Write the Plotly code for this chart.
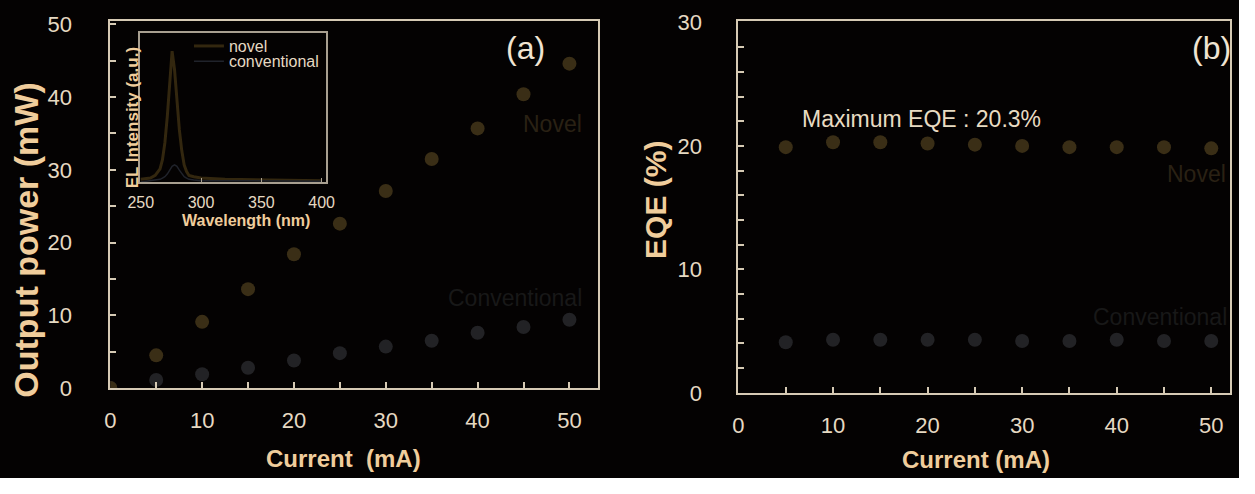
import plotly.graph_objects as go

# ---- data -------------------------------------------------------------
current_ma = [0, 5, 10, 15, 20, 25, 30, 35, 40, 45, 50]
power_novel_mw = [0.0, 4.5, 9.1, 13.6, 18.4, 22.6, 27.1, 31.5, 35.7, 40.4, 44.6]
power_conv_mw = [0.0, 1.1, 1.9, 2.8, 3.8, 4.8, 5.7, 6.5, 7.6, 8.4, 9.4]

eqe_current_ma = [5, 10, 15, 20, 25, 30, 35, 40, 45, 50]
eqe_novel_pct = [19.9, 20.3, 20.3, 20.2, 20.1, 20.0, 19.9, 19.9, 19.9, 19.8]
eqe_conv_pct = [4.1, 4.3, 4.3, 4.3, 4.3, 4.2, 4.2, 4.3, 4.2, 4.2]

wavelength_nm = [250, 258, 262, 266, 268, 270, 272, 274, 276, 278, 280,
                 282, 284, 286, 288, 290, 294, 300, 320, 350, 380, 400]
el_novel = [0.02, 0.03, 0.05, 0.10, 0.17, 0.30, 0.50, 0.76, 1.00, 0.86, 0.62,
            0.40, 0.24, 0.13, 0.08, 0.05, 0.04, 0.03, 0.02, 0.015, 0.01, 0.01]
el_conv = [0.00, 0.01, 0.01, 0.02, 0.03, 0.04, 0.06, 0.09, 0.12, 0.13, 0.12,
           0.09, 0.06, 0.04, 0.03, 0.02, 0.015, 0.01, 0.01, 0.01, 0.005, 0.005]

power_ticks = [0, 5, 10, 15, 20, 25, 30, 35, 40, 45, 50]
power_ticktext = ["0", "", "10", "", "20", "", "30", "", "40", "", "50"]
current_ticks = [0, 5, 10, 15, 20, 25, 30, 35, 40, 45, 50]
current_ticktext = ["0", "", "10", "", "20", "", "30", "", "40", "", "50"]
eqe_ticks = list(range(0, 31, 2))
eqe_ticktext = [str(v) if v % 10 == 0 else "" for v in eqe_ticks]
wl_ticks = [250, 300, 350, 400]

# ---- styling ----------------------------------------------------------
# The page keeps its default 8 px body margin, so the figure itself is
# 16 px smaller than the window and every position below is given in
# window pixels, then shifted by that margin.
PAGE_W, PAGE_H, PAGE_MARGIN = 1255, 494, 8
W, H = PAGE_W - 2 * PAGE_MARGIN, PAGE_H - 2 * PAGE_MARGIN
BG = "#040202"
AXIS = "#d6cab4"
TICKFONT = "#e6d9c2"
TITLEFONT = "#f0cd9c"
NOVEL = "#3a2e16"
CONV = "#222225"
FONT = "Liberation Sans, Arial, sans-serif"


def px_x(p):
    return (p - PAGE_MARGIN) / W


def px_y(p):
    return 1 - (p - PAGE_MARGIN) / H


fig = go.Figure()

# (a) output power
fig.add_trace(go.Scatter(x=current_ma, y=power_conv_mw, mode="markers",
                         marker=dict(size=14, color=CONV), showlegend=False,
                         xaxis="x", yaxis="y"))
fig.add_trace(go.Scatter(x=current_ma, y=power_novel_mw, mode="markers",
                         marker=dict(size=14, color=NOVEL), showlegend=False,
                         xaxis="x", yaxis="y"))

# (b) EQE
fig.add_trace(go.Scatter(x=eqe_current_ma, y=eqe_novel_pct, mode="markers",
                         marker=dict(size=14, color=NOVEL), showlegend=False,
                         xaxis="x2", yaxis="y2"))
fig.add_trace(go.Scatter(x=eqe_current_ma, y=eqe_conv_pct, mode="markers",
                         marker=dict(size=14, color=CONV), showlegend=False,
                         xaxis="x2", yaxis="y2"))

# inset EL spectra, each with its own one-line legend
fig.add_trace(go.Scatter(x=wavelength_nm, y=el_novel, mode="lines", name="novel",
                         line=dict(color="#33270f", width=3),
                         xaxis="x3", yaxis="y3", legend="legend"))
fig.add_trace(go.Scatter(x=wavelength_nm, y=el_conv, mode="lines", name="conventional",
                         line=dict(color="#20232b", width=1.5),
                         xaxis="x3", yaxis="y3", legend="legend2"))

axis_common = dict(showline=True, linecolor=AXIS, linewidth=2, mirror=True,
                   ticks="inside", tickcolor=AXIS, ticklen=6, tickwidth=1.5,
                   showgrid=False, zeroline=False,
                   tickfont=dict(family=FONT, size=22, color=TICKFONT))

legend_common = dict(xanchor="left", yanchor="top",
                     bgcolor="rgba(0,0,0,0)", borderwidth=0,
                     font=dict(family=FONT, size=16, color=TICKFONT))

fig.update_layout(
    width=W, height=H,
    margin=dict(l=0, r=0, t=0, b=0),
    paper_bgcolor=BG, plot_bgcolor=BG,
    font=dict(family=FONT),
    xaxis=dict(domain=[px_x(108), px_x(604)], range=[0, 53.1],
               tickvals=current_ticks, ticktext=current_ticktext,
               ticklabelstandoff=12, anchor="y", **axis_common),
    yaxis=dict(domain=[px_y(405), px_y(19)], range=[0, 50.4],
               tickvals=power_ticks, ticktext=power_ticktext,
               ticklabelstandoff=32, anchor="x", **axis_common),
    xaxis2=dict(domain=[px_x(747), 1.0], range=[0, 51.98],
                tickvals=current_ticks, ticktext=current_ticktext,
                ticklabelstandoff=12, anchor="y2", **axis_common),
    yaxis2=dict(domain=[px_y(410), px_y(19)], range=[0, 30.08],
                tickvals=eqe_ticks, ticktext=eqe_ticktext,
                ticklabelstandoff=30, anchor="x2", **axis_common),
    xaxis3=dict(domain=[px_x(138), px_x(327)], range=[249.2, 403.3],
                tickvals=wl_ticks, showline=True, linecolor="#a89f90",
                linewidth=1.5, mirror=True, ticks="inside", ticklen=4,
                tickcolor="#a89f90", showgrid=False, zeroline=False,
                ticklabelstandoff=5,
                tickfont=dict(family=FONT, size=16, color=TICKFONT),
                anchor="y3"),
    yaxis3=dict(domain=[px_y(188), px_y(31)], range=[0, 1.14],
                showticklabels=False, ticks="", showline=True,
                linecolor="#a89f90", linewidth=1.5, mirror=True,
                showgrid=False, zeroline=False, anchor="x3"),
    legend=dict(x=px_x(188), y=px_y(27), **legend_common),
    legend2=dict(x=px_x(188), y=px_y(43), **legend_common),
)

annotations = [
    # axis titles
    dict(text="<b>Current  (mA)</b>", x=px_x(345), y=px_y(479),
         font=dict(size=24, color=TITLEFONT)),
    dict(text="<b>Current (mA)</b>", x=px_x(989), y=px_y(480),
         font=dict(size=24, color=TITLEFONT)),
    dict(text="<b>Output power (mW)</b>", x=px_x(22), y=px_y(249),
         textangle=-90, font=dict(size=34, color=TITLEFONT)),
    dict(text="<b>EQE (%)</b>", x=px_x(662), y=px_y(207),
         textangle=-90, font=dict(size=30, color=TITLEFONT)),
    dict(text="<b>Wavelength (nm)</b>", x=px_x(246), y=px_y(229),
         font=dict(size=16, color=TITLEFONT)),
    dict(text="<b>EL Intensity (a.u.)</b>", x=px_x(130), y=px_y(120),
         textangle=-90, font=dict(size=17, color=TITLEFONT)),
    # panel labels
    dict(text="(a)", x=px_x(530), y=px_y(47),
         font=dict(size=32, color="#f0e4d2")),
    dict(text="(b)", x=px_x(1228), y=px_y(47),
         font=dict(size=32, color="#f0e4d2")),
    dict(text="Maximum EQE : 20.3%", x=px_x(933), y=px_y(122),
         font=dict(size=23, color="#e8dbc2")),
    # series labels
    dict(text="Novel", x=px_x(558), y=px_y(127),
         font=dict(size=23, color="#2a2114")),
    dict(text="Conventional", x=px_x(520), y=px_y(310),
         font=dict(size=23, color="#181818")),
    dict(text="Novel", x=px_x(1213), y=px_y(180),
         font=dict(size=23, color="#2a2114")),
    dict(text="Conventional", x=px_x(1176), y=px_y(330),
         font=dict(size=23, color="#181818")),
]
for a in annotations:
    a.update(xref="paper", yref="paper", showarrow=False,
             xanchor="center", yanchor="middle")
    a["font"]["family"] = FONT
fig.update_layout(annotations=annotations)

fig.write_html("out.html")
